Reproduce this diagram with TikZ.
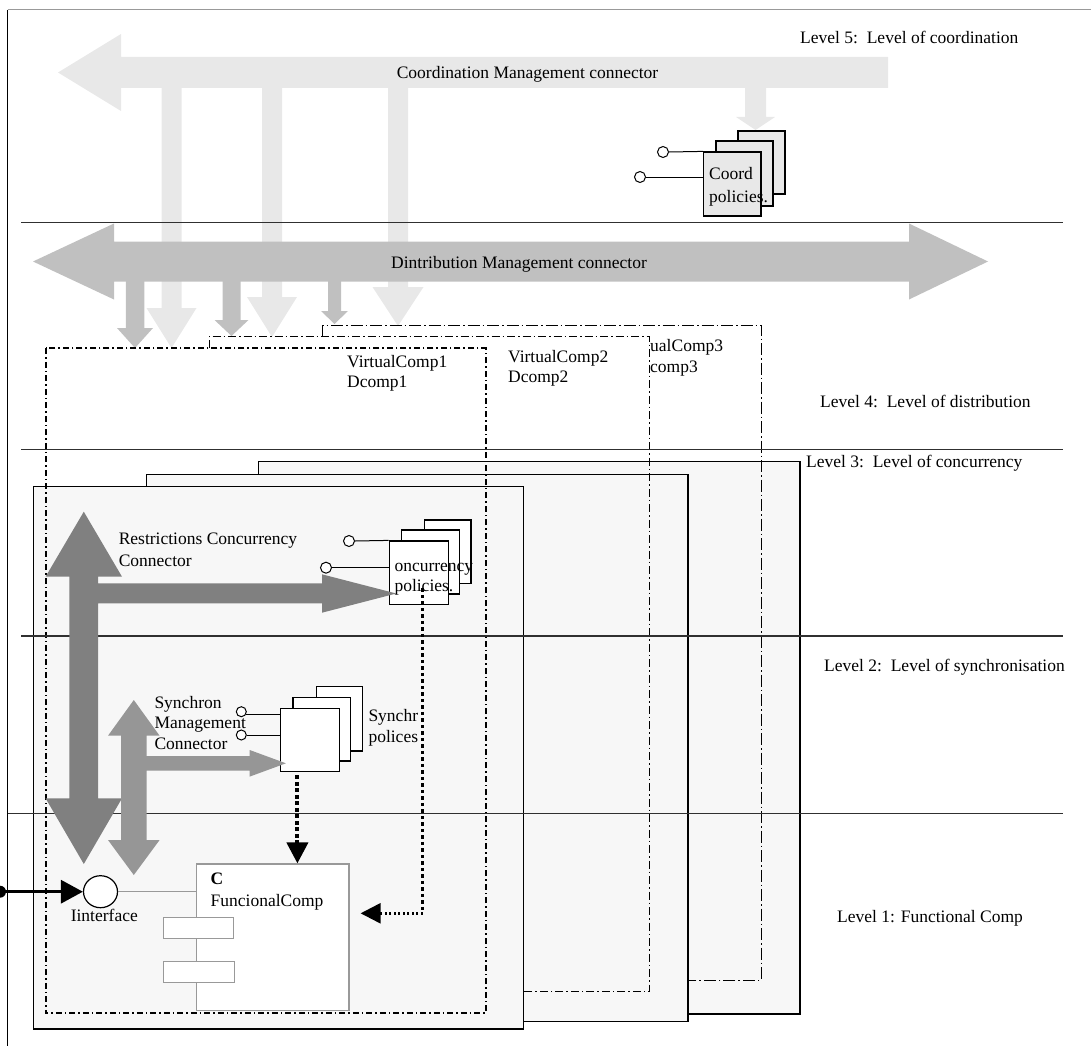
\documentclass[tikz,border=0pt]{standalone}
\usepackage{fontspec}
\setmainfont{Liberation Serif}
\usetikzlibrary{arrows.meta,fit,shapes.geometric}
\definecolor{coordgray}{HTML}{E8E8E8}
\definecolor{distgray}{HTML}{C0C0C0}
\definecolor{restrgray}{HTML}{808080}
\definecolor{syncgray}{HTML}{969696}
\definecolor{panelfill}{HTML}{F7F7F7}
\definecolor{levelline}{HTML}{303030}
\definecolor{fcline}{HTML}{999999}
% downward block arrow: colour, centre x, top y, half stem, head top y, half head, tip y
\newcommand\dstem[7]{\fill[#1] ({#2-#4},#3) -- ({#2+#4},#3) -- ({#2+#4},#5) -- ({#2+#6},#5) -- (#2,#7) -- ({#2-#6},#5) -- ({#2-#4},#5) -- cycle;}
\begin{document}
\begin{tikzpicture}[x=1pt,y=-1pt,
  lbl/.style={inner sep=0pt, anchor=west, font=\fontsize{17.5}{21}\selectfont, text height=12.3pt, text depth=3.5pt},
  lvl/.style={draw=levelline, line width=1.4pt},
  panelst/.style={draw=black, fill=panelfill, line width=1.1pt},
  cobox/.style={draw=black, fill=coordgray, line width=1.2pt, inner sep=0pt, rectangle},
  pbox/.style={draw=black, fill=white, line width=1.2pt, inner sep=0pt, rectangle},
  fcbox/.style={draw=fcline, fill=white, line width=1.2pt, inner sep=0pt, rectangle},
  lolli/.style={circle, draw=black, fill=white, line width=1pt, inner sep=0pt, minimum size=11pt},
  stick/.style={draw=black, line width=1pt},
  vcA/.style={draw=black, line width=2pt, dash pattern=on 6pt off 3pt on 1.5pt off 3pt},
  vcB/.style={draw=black, line width=1pt, dash pattern=on 8pt off 3pt on 1.5pt off 3pt},
  vcC/.style={draw=black, line width=1pt, dash pattern=on 12pt off 3pt on 1.5pt off 3pt},
  dotv/.style={draw=black, line width=3.5pt, dash pattern=on 3.5pt off 3pt},
  doth/.style={draw=black, line width=2.5pt, dash pattern=on 2pt off 2.5pt},
  dots2/.style={draw=black, line width=4pt, dash pattern=on 4pt off 2.5pt}
]
\useasboundingbox (0,0) rectangle (1091,1046);

% frame
\draw[fcline, line width=1pt] (7.7,10) -- (1091,10);
\draw[black, line width=1.3pt] (7.7,10) -- (7.7,1046);

% coordination management connector
\fill[coordgray] (58,72.5) -- (121,34) -- (121,57) -- (888,57) -- (888,88) -- (121,88) -- (121,111) -- cycle;
\dstem{coordgray}{171.5}{86}{10}{308}{25}{348}
\dstem{coordgray}{272}{86}{10}{297}{25}{337}
\dstem{coordgray}{398}{86}{10}{287}{25.5}{326}
\dstem{coordgray}{755.5}{86}{10.5}{117}{19.5}{130}

% distribution management connector
\fill[distgray] (33,261.5) -- (114,223.5) -- (114,241.5) -- (909,241.5) -- (909,223.5) -- (988,261.5) -- (909,299.5) -- (909,281.5) -- (114,281.5) -- (114,299.5) -- cycle;
\dstem{distgray}{135}{280}{9.25}{328}{18}{348}
\dstem{distgray}{231.5}{280}{9}{320}{17}{336}
\dstem{distgray}{334.5}{280}{6.5}{311}{13.5}{324}

% coordination policies
\node[cobox, fit={(738,131) (785,194)}] (coB) {};
\node[cobox, fit={(716,141) (773,206)}] (coM) {};
\node[cobox, fit={(703.5,152) (761,216)}] (coF) {};
\node[lolli] (coL1) at (663,152) {};
\node[lolli] (coL2) at (640,177) {};
\draw[stick] (coL1.east) -- (coF.north west);
\draw[stick] (coL2.east) -- (coL2.east -| coF.west);

% concurrency panels and virtual component frames
\draw[panelst] (258.9,461.7) rectangle (800,1014);
\draw[vcC] (322.7,336) -- (322.7,325) -- (761.5,325) -- (761.5,980) -- (688,980);
\draw[panelst] (146.6,474.3) rectangle (688,1021.7);
\draw[vcB] (209.4,348.3) -- (209.4,336) -- (649,336) -- (649,991.7) -- (523.7,991.7);
\draw[panelst] (33.3,486.7) rectangle (523.7,1029);
\draw[vcA] (45.6,348.3) rectangle (486,1013);

% level separators
\draw[lvl] (21,222.7) -- (1063,222.7);
\draw[lvl] (21,449.3) -- (1063,449.3);
\draw[lvl] (21,636) -- (1063,636);
\draw[lvl] (7.7,813.3) -- (1063,813.3);

% concurrency policies
\node[pbox, fit={(424.3,520) (471,583.3)}] (cnB) {};
\node[pbox, fit={(401.7,530) (459.3,594)}] (cnM) {};
\node[pbox, fit={(389.3,541) (448.3,604.3)}] (cnF) {};
\node[lolli] (cnL1) at (349,541) {};
\node[lolli] (cnL2) at (326,567.7) {};
\draw[stick] (cnL1.east) -- (cnF.north west);
\draw[stick] (cnL2.east) -- (cnL2.east -| cnF.west);

% synchronisation policies
\node[pbox, fit={(316.4,686.7) (362.3,751)}] (syB) {};
\node[pbox, fit={(292.9,697.3) (350.7,761)}] (syM) {};
\node[pbox, fit={(280.6,708.3) (339.2,771.7)}] (syF) {};
\node[lolli, minimum size=10pt] (syL1) at (241.3,711.7) {};
\node[lolli, minimum size=10pt] (syL2) at (241.3,735) {};
\draw[stick] (syL1.-30) -- (syL1.-30 -| syF.west);
\draw[stick] (syL2.east) -- (syL2.east -| syF.west);

% restrictions concurrency connector
\fill[restrgray] (83.8,511.7) -- (122,576.7) -- (98.2,576.7) -- (98.2,583.3) -- (322,583.3) -- (322,574.3) -- (396.3,593.5) -- (322,612.7) -- (322,603.3) -- (98.2,603.3) -- (98.2,798.3) -- (122,798.3) -- (83.8,864) -- (45.6,798.3) -- (69.4,798.3) -- (69.4,576.7) -- (45.6,576.7) -- cycle;

% synchron management connector
\fill[syncgray] (133.8,700) -- (159.6,735.7) -- (146.6,735.7) -- (146.6,756) -- (249.7,756) -- (249.7,750) -- (285.9,763.3) -- (249.7,776.6) -- (249.7,770.7) -- (146.6,770.7) -- (146.6,840) -- (159.6,840) -- (133.8,875) -- (108,840) -- (121,840) -- (121,735.7) -- (108,735.7) -- cycle;

% functional component
\node[fcbox, fit={(196.4,864) (349,1010.7)}] (fc) {};
\node[fcbox, fit={(163.8,917.7) (233.3,938.3)}] (port1) {};
\node[fcbox, fit={(163.8,961.7) (234.3,982.7)}] (port2) {};
\node[ellipse, draw=black, fill=white, line width=1.2pt, inner sep=0pt, minimum width=34pt, minimum height=32pt] (iface) at (100.5,891.7) {};
\draw[fcline, line width=1.2pt] (iface.east) -- (iface.east -| fc.west);
\node[circle, fill=black, inner sep=0pt, minimum size=12pt] (src) at (0,891.7) {};
\draw[black, line width=3.2pt, -{Triangle[length=22pt,width=23pt]}] (src.center) -- (iface.west);

% labels
\node[lbl, anchor=center] (tCoord) at (527.5,74) {Coordination Management connector};
\node[lbl] (tL5) at (800,39) {Level 5:\ \ Level of coordination};
\node[lbl] (tCp1) at (709,175.5) {Coord};
\node[lbl] (tCp2) at (709,198.5) {policies.};
\node[lbl, anchor=center] (tDist) at (519,264) {Dintribution Management connector};
\node[lbl] (tVa1) at (347,362.7) {VirtualComp1};
\node[lbl] (tVa2) at (347,383.5) {Dcomp1};
\node[lbl] (tVb1) at (508,358.5) {VirtualComp2};
\node[lbl] (tVb2) at (508,378.5) {Dcomp2};
\node[lbl] (tVc1) at (650,347.5) {ualComp3};
\node[lbl] (tVc2) at (650,368) {comp3};
\node[lbl] (tL4) at (820,403) {Level 4:\ \ Level of distribution};
\node[lbl] (tL3) at (806,463) {Level 3:\ \ Level of concurrency};
\node[lbl] (tRc1) at (118.6,540) {Restrictions Concurrency};
\node[lbl] (tRc2) at (118.6,561.7) {Connector};
\node[lbl] (tCn1) at (394.3,566.7) {oncurrency};
\node[lbl] (tCn2) at (394.3,587.3) {policies.};
\node[lbl] (tL2) at (824,666.7) {Level 2:\ \ Level of synchronisation};
\node[lbl] (tSm1) at (154.3,704) {Synchron};
\node[lbl] (tSm2) at (154.3,724) {Management};
\node[lbl] (tSm3) at (154.3,745) {Connector};
\node[lbl] (tSp1) at (368.3,717.3) {Synchr};
\node[lbl] (tSp2) at (368.3,738.3) {polices};
\node[lbl] (tFc1) at (210.5,880) {\bfseries C};
\node[lbl] (tFc2) at (210.5,901.7) {FuncionalComp};
\node[lbl, anchor=center] (tIf) at (104.3,917.3) {Iinterface};
\node[lbl] (tL1) at (837,918) {Level 1: Functional Comp};

% control flows into the functional component
\coordinate (cnOut) at (422.7,588.3);
\coordinate (cnTurn) at (422.7,913.3);
\coordinate (fcIn) at (360.6,913.3);
\draw[dotv] (cnOut) -- (cnTurn);
\draw[doth, -{Triangle[length=20pt,width=20pt]}] (cnTurn) -- (fcIn);
\draw[dots2, -{Triangle[length=21pt,width=21pt]}] ([xshift=-12.5pt,yshift=-3pt]syF.south) -- ([xshift=-12.5pt]syF.south |- fc.north);
\end{tikzpicture}
\end{document}
